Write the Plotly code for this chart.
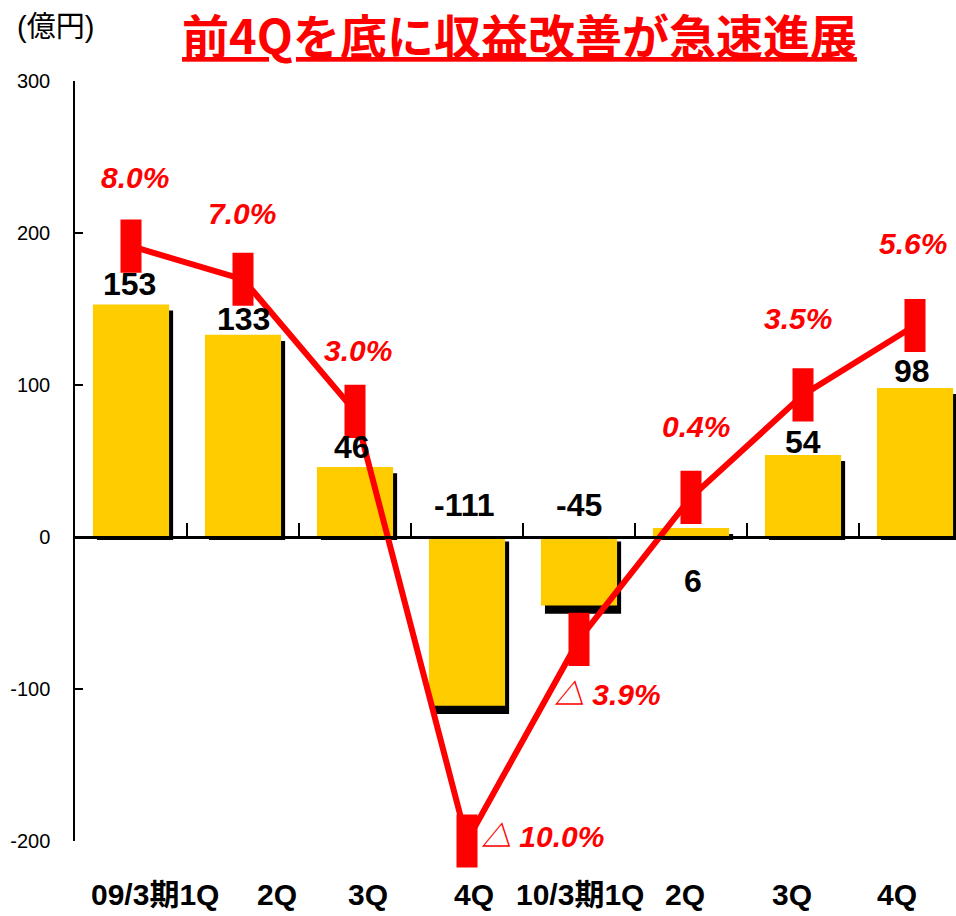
import plotly.graph_objects as go

# ---------------- data ----------------
categories = ["09/3期1Q", "2Q", "3Q", "4Q", "10/3期1Q", "2Q", "3Q", "4Q"]
profit = [153, 133, 46, -111, -45, 6, 54, 98]          # 億円
margin = [8.0, 7.0, 3.0, -10.0, -3.9, 0.4, 3.5, 5.6]     # %
margin_labels = ["8.0%", "7.0%", "3.0%", "△ 10.0%", "△ 3.9%", "0.4%", "3.5%", "5.6%"]
y_ticks = [-200, -100, 0, 100, 200, 300]
y_tick_labels = ["-200", "-100", "0", "100", "200", "300"]

# ---------------- styling / placement (pixels) ----------------
YELLOW = "#FFCC00"
RED = "#FF0000"
SANS = "Liberation Sans, Arial, sans-serif"

M_L, M_T, M_R = 75, 81, 0
PLOT_W = 956 - M_L - M_R
PLOT_H = 760
M_B = 916 - M_T - PLOT_H
CAT_PX = 112

bar_lbl_dx = [-2, 0, -3, -3, 0, 2, 0, -3]
bar_lbl_dy = [20, 16, 20, 32, 32, -53, 13, 17]
pct_dx = [4, -1, 3, 75, 28, 5, -5, -2]
pct_dy = [69, 66, 61, 5, -55, 71, 76, 82]
cat_dx = [24, 34, 13, 7, 1, -6, -11, -18]

x = list(range(len(categories)))

# drop shadow drawn slightly right of and below each bar
shadow_base = [-2 if v > 0 else -3 for v in profit]
shadow_len = [v - 2 if v > 0 else v - 2.5 for v in profit]

fig = go.Figure()

fig.add_trace(go.Bar(
    x=x, y=shadow_len, base=shadow_base, width=0.68, offset=-0.34 + 0.036,
    marker=dict(color="black", line=dict(width=0)), hoverinfo="skip",
))
fig.add_trace(go.Bar(
    x=x, y=profit, width=0.68, offset=-0.34,
    marker=dict(color=YELLOW, line=dict(width=0)),
))
fig.add_trace(go.Scatter(
    x=x, y=margin, yaxis="y2", mode="lines+markers", cliponaxis=False,
    line=dict(color=RED, width=6),
    marker=dict(symbol="line-ns", size=38, color=RED, line=dict(color=RED, width=21)),
))

ann = []
for i, v in enumerate(profit):
    ann.append(dict(x=i, y=max(v, 0), xref="x", yref="y", text=str(v), showarrow=False,
                    xanchor="center", yanchor="middle", xshift=bar_lbl_dx[i], yshift=bar_lbl_dy[i],
                    font=dict(family=SANS, size=32, color="black", weight="bold")))
for i, (p, t) in enumerate(zip(margin, margin_labels)):
    ann.append(dict(x=i, y=p, xref="x", yref="y2", text=t, showarrow=False,
                    xanchor="center", yanchor="middle", xshift=pct_dx[i], yshift=pct_dy[i],
                    font=dict(family=SANS + ", Noto Sans CJK JP", size=30, color=RED,
                              weight="bold", style="italic")))
for i, c in enumerate(categories):
    ann.append(dict(x=i, y=-54 / PLOT_H, xref="x", yref="paper", text=c, showarrow=False,
                    xanchor="center", yanchor="middle", xshift=cat_dx[i],
                    font=dict(family="Liberation Sans, Arial, Noto Sans CJK JP", size=30,
                              color="black", weight="bold")))
ann.append(dict(x=(15 - 75) / PLOT_W, y=1 + 54 / PLOT_H, xref="paper", yref="paper",
                text="(億円)", showarrow=False, xanchor="left", yanchor="middle",
                font=dict(family="Liberation Sans, Noto Sans CJK JP", size=29, color="black")))
ann.append(dict(x=(519.5 - 75) / PLOT_W, y=1 + 48 / PLOT_H, xref="paper", yref="paper",
                text="前4Qを底に収益改善が急速進展", showarrow=False,
                xanchor="center", yanchor="middle",
                font=dict(family="Noto Sans CJK JP", size=47, color=RED, weight="bold",
                          lineposition="under")))

fig.update_layout(
    width=956, height=916,
    margin=dict(l=M_L, r=M_R, t=M_T, b=M_B, autoexpand=False),
    paper_bgcolor="white", plot_bgcolor="white",
    showlegend=False, barmode="overlay",
    annotations=ann,
    xaxis=dict(
        range=[-0.5, -0.5 + PLOT_W / CAT_PX], anchor="free", position=0.4, automargin=False,
        showline=True, linecolor="black", linewidth=2.5,
        ticks="inside", ticklen=13, tickwidth=1.5, tickcolor="black",
        tickvals=[i + 0.5 for i in range(len(categories) - 1)],
        showticklabels=False, showgrid=False, zeroline=False,
    ),
    yaxis=dict(
        range=[-200, 300], tickvals=y_ticks, ticktext=y_tick_labels, automargin=False,
        showline=True, linecolor="black", linewidth=1.5,
        ticks="inside", ticklen=8, tickwidth=1.5, tickcolor="black",
        showgrid=False, zeroline=False, ticklabelstandoff=19,
        tickfont=dict(family=SANS, size=20, color="black"),
    ),
    yaxis2=dict(range=[-10, 13], overlaying="y", visible=False, automargin=False),
)

fig.write_html("out.html", config={"displayModeBar": False},
               post_script="document.body.style.margin='0';")
